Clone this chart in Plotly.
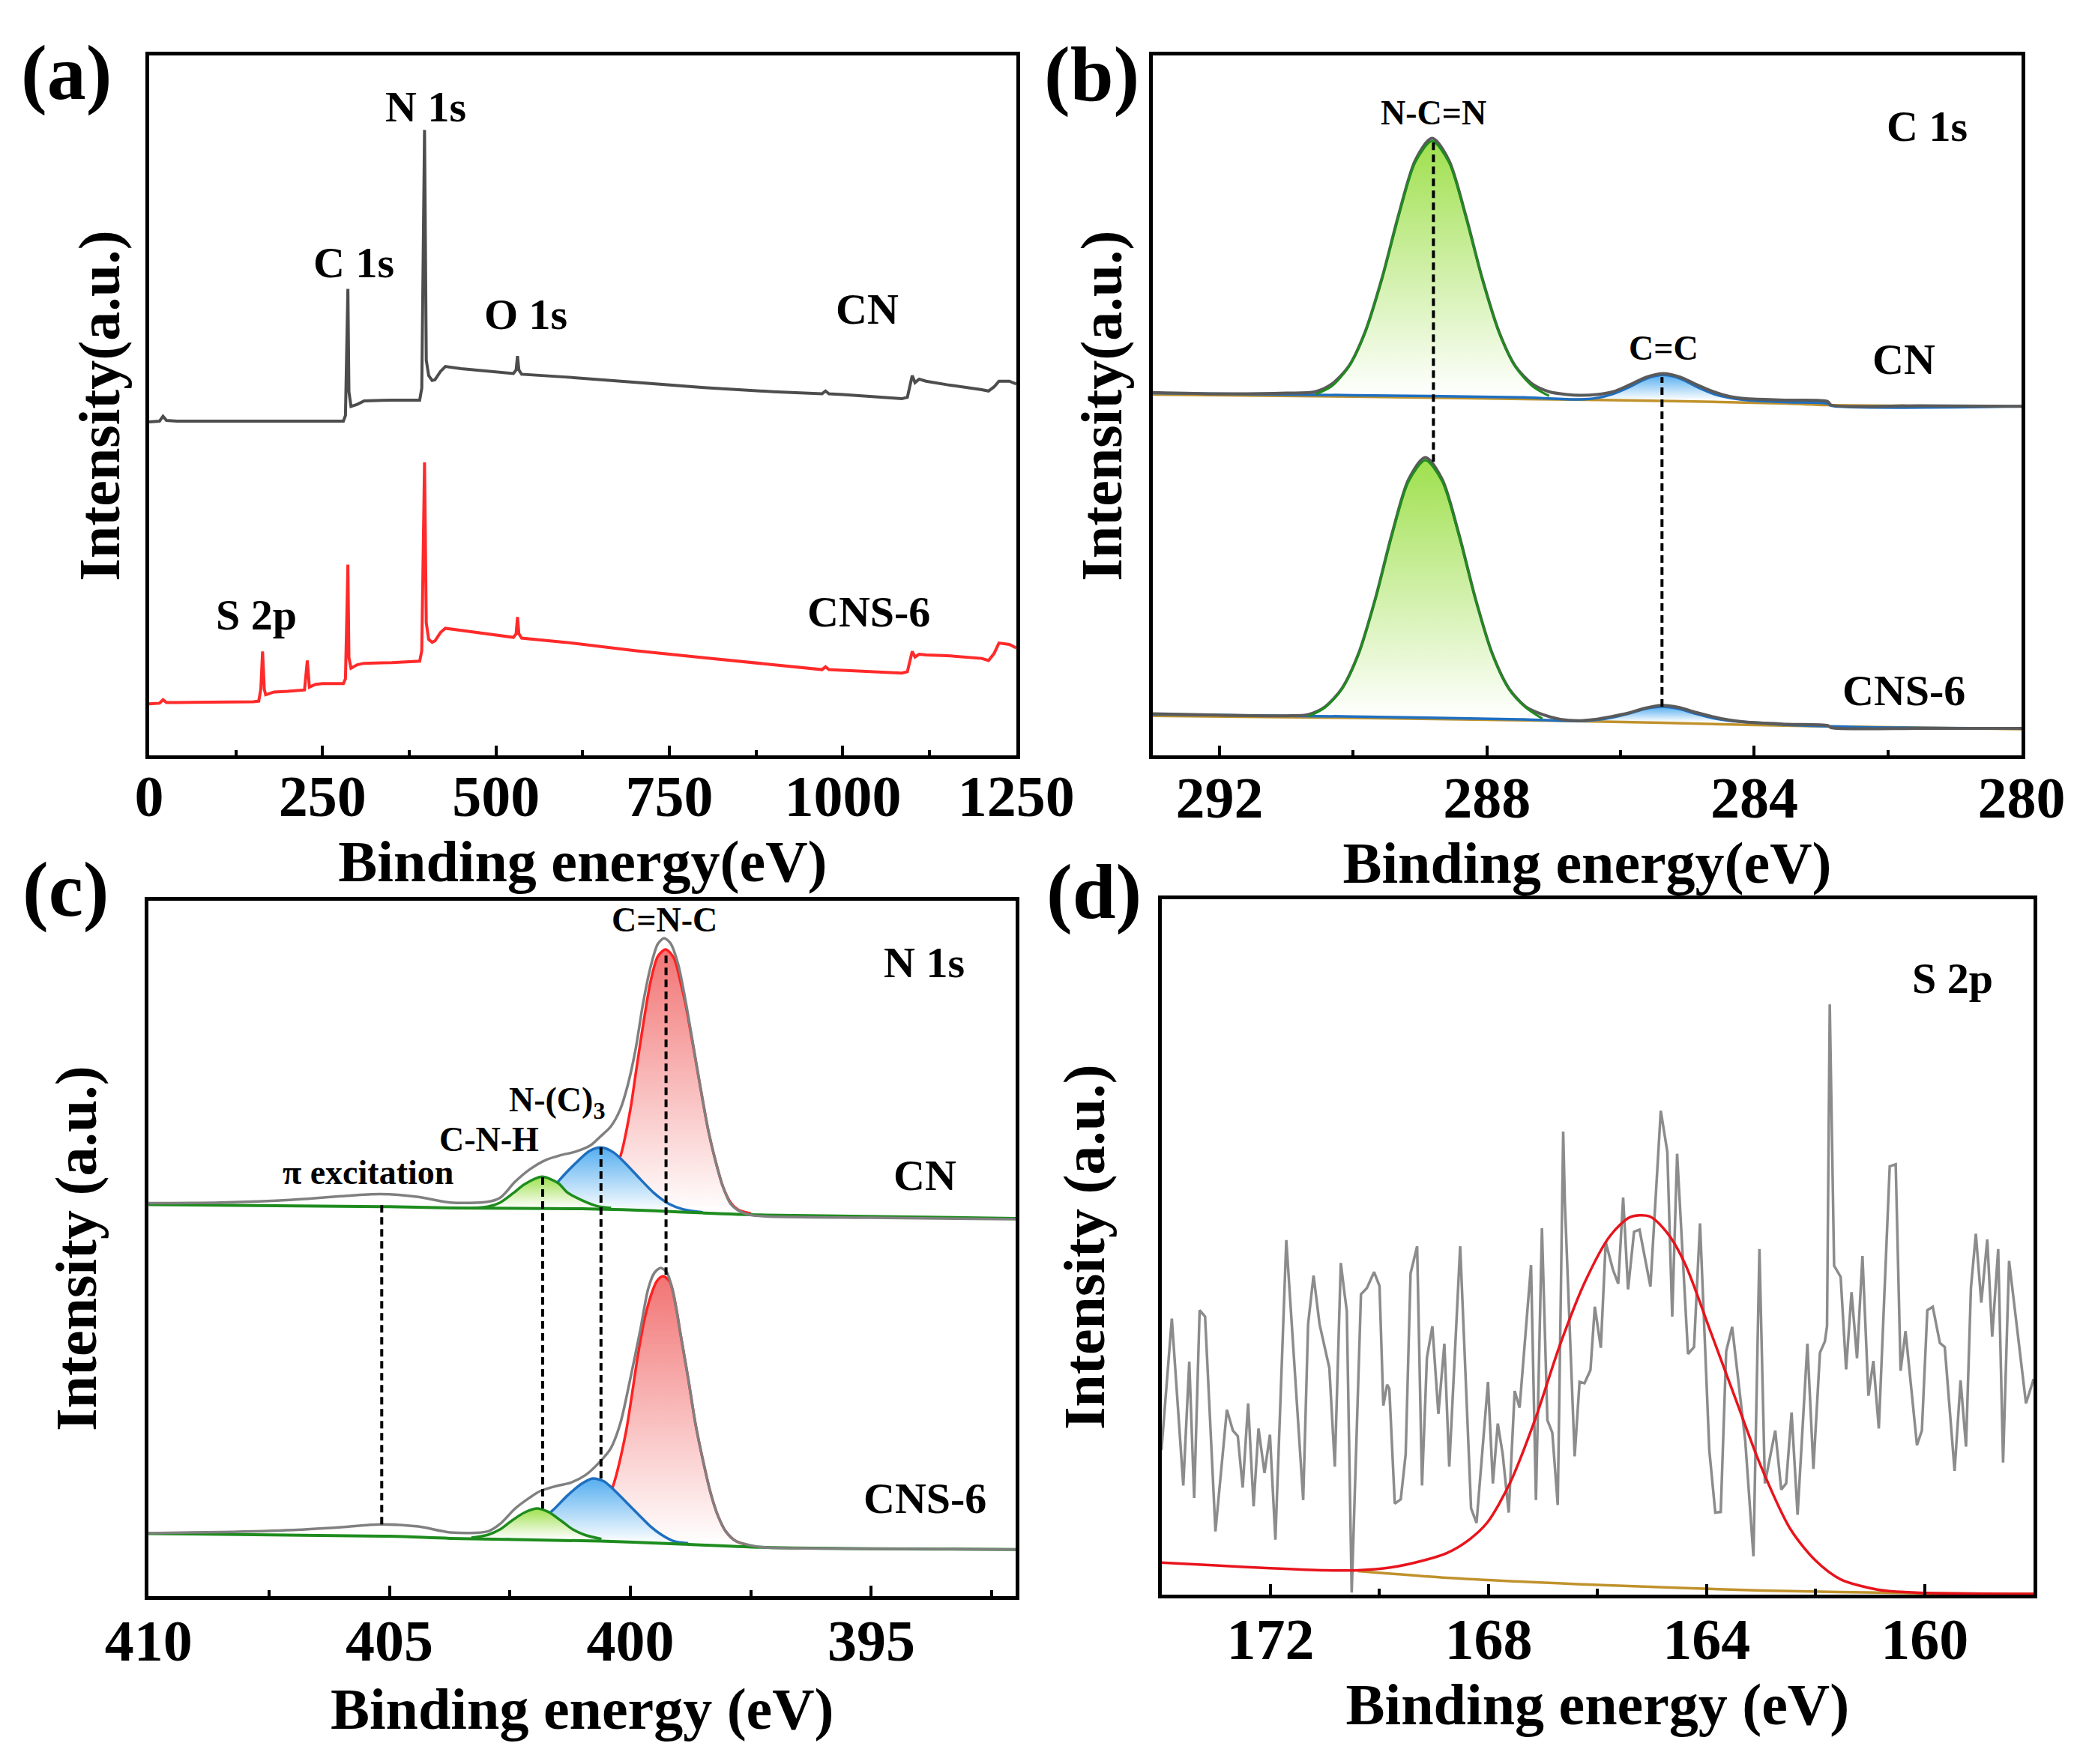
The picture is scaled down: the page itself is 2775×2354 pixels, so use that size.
import plotly.graph_objects as go

FONT = "Liberation Serif"

# ---------------- (a) survey spectra ----------------
a_cn_x = [0, 15, 20, 25, 40, 100, 200, 280, 283, 285, 286.5, 288, 291, 300, 310, 350, 390, 393, 397, 399.5,
          403, 408, 412, 420, 427, 450, 500, 525, 529, 531, 533, 537, 600, 700, 800, 900, 970, 975, 980, 1000,
          1085, 1093, 1097, 1100, 1104, 1110, 1120, 1150, 1200, 1210, 1218, 1225, 1240, 1250]
a_cn_y = [47.7, 47.8, 48.5, 47.9, 47.8, 47.8, 47.8, 47.8, 48.6, 58.0, 66.7, 52.0, 49.9, 50.2, 50.7, 50.8, 50.8, 52.5, 89.4, 56.5,
          54.3, 53.6, 53.7, 54.9, 55.6, 55.3, 54.9, 54.6, 55.1, 57.1, 55.1, 54.5, 54.1, 53.3, 52.6, 52.0, 51.7, 52.1, 51.7, 51.6,
          51.0, 51.2, 53.0, 54.3, 53.3, 53.8, 53.5, 53.0, 52.3, 52.1, 52.7, 53.5, 53.5, 53.1]
a_cns_x = [0, 15, 20, 25, 40, 100, 150, 158, 161, 163.5, 166, 168, 180, 200, 224, 228, 231, 240, 250, 280,
           283, 285, 286.5, 288, 291, 300, 310, 350, 390, 393, 397, 399.5, 403, 408, 412, 420, 427, 450, 500, 525,
           529, 531, 533, 537, 600, 700, 800, 900, 970, 975, 980, 1000, 1085, 1093, 1097, 1100, 1104, 1110, 1120, 1150,
           1200, 1210, 1218, 1225, 1240, 1250]
a_cns_y = [7.4, 7.5, 8.0, 7.6, 7.6, 7.6, 7.7, 7.8, 9.5, 14.9, 9.5, 8.7, 9.1, 9.2, 9.4, 13.6, 9.8, 10.2, 10.3, 10.3,
           11.0, 20.0, 27.3, 14.0, 12.5, 13.0, 13.2, 13.3, 13.5, 15.0, 41.9, 19.0, 16.6, 16.2, 16.4, 17.6, 18.2, 17.9, 17.2, 16.9,
           17.4, 19.8, 17.4, 16.8, 16.2, 15.0, 14.0, 13.0, 12.3, 12.7, 12.3, 12.2, 11.8, 12.0, 13.5, 14.9, 14.1, 14.5, 14.4, 14.3,
           13.9, 13.6, 14.6, 16.1, 15.9, 15.4]
a_ticks = [0, 250, 500, 750, 1000, 1250]
a_minor = [125, 375, 625, 875, 1125]
a_lab_text = ["N 1s", "C 1s", "O 1s", "CN", "S 2p", "CNS-6"]
a_lab_x = [399, 295, 543, 1035, 155, 1037]
a_lab_y = [92.7, 70.4, 63.0, 63.8, 20.1, 20.5]

# ---------------- (b) C 1s ----------------
b_cn_gray_x = [293, 292, 291, 290.57, 290.32, 290.07, 289.82, 289.57, 289.32, 289.07, 288.82, 288.57, 288.32, 288.07,
               287.82, 287.57, 287.32, 287.07, 286.8, 286.61, 286.36, 286.11, 285.86, 285.61, 285.36, 285.11, 284.86,
               284.61, 284.36, 284.11, 283.5, 282.9, 282.85, 281.5, 280]
b_cn_gray_y = [51.9, 51.7, 51.8, 52.0, 53.1, 55.6, 60.6, 68.2, 77.3, 85.1, 88.2, 85.1, 77.3, 68.2, 60.6, 55.6, 53.1, 52.0,
               51.6, 51.5, 51.6, 52.0, 53.0, 54.1, 54.6, 54.1, 53.0, 52.0, 51.3, 51.0, 50.8, 50.6, 50.1, 50.0, 49.9]
b_cn_green_x = [290.57, 290.32, 290.07, 289.82, 289.57, 289.32, 289.07, 288.82, 288.57, 288.32, 288.07, 287.82, 287.57, 287.32, 287.07]
b_cn_green_y = [51.6, 52.8, 55.5, 60.5, 68.1, 77.1, 84.8, 87.8, 84.8, 77.1, 68.1, 60.5, 55.5, 52.8, 51.4]
b_cn_blue_x = [293, 290, 287.5, 286.61, 286.36, 286.11, 285.86, 285.61, 285.36, 285.11, 284.86, 284.61, 284.36, 284.11, 283.5, 282.9, 282.85, 280]
b_cn_blue_y = [51.8, 51.5, 51.2, 50.9, 51.1, 51.7, 52.7, 53.9, 54.4, 53.9, 52.7, 51.7, 51.1, 50.8, 50.5, 50.3, 50.0, 49.9]
b_cn_bg_x = [293, 290, 287, 285.4, 283.5, 282.9, 280]
b_cn_bg_y = [51.6, 51.3, 50.9, 50.7, 50.3, 50.1, 49.9]

b_cns_gray_x = [293, 292, 291, 290.67, 290.42, 290.17, 289.92, 289.67, 289.42, 289.17, 288.92, 288.67, 288.42, 288.17,
                287.92, 287.67, 287.42, 287.17, 286.9, 286.63, 286.38, 286.13, 285.88, 285.63, 285.38, 285.13, 284.88,
                284.63, 284.38, 284.13, 283.5, 282.9, 282.85, 281.5, 280]
b_cns_gray_y = [6.0, 5.8, 5.7, 5.9, 7.0, 9.6, 14.6, 22.4, 31.7, 39.5, 42.6, 39.5, 31.7, 22.4, 14.6, 9.6, 7.0, 5.9,
                5.2, 5.0, 5.2, 5.6, 6.1, 6.8, 7.2, 6.9, 6.2, 5.6, 5.1, 4.8, 4.5, 4.3, 4.0, 3.9, 3.9]
b_cns_green_x = [290.67, 290.42, 290.17, 289.92, 289.67, 289.42, 289.17, 288.92, 288.67, 288.42, 288.17, 287.92, 287.67, 287.42, 287.17]
b_cns_green_y = [5.6, 6.9, 9.5, 14.5, 22.3, 31.5, 39.2, 42.2, 39.2, 31.5, 22.3, 14.5, 9.5, 6.9, 5.3]
b_cns_blue_x = [293, 290, 287.5, 286.63, 286.38, 286.13, 285.88, 285.63, 285.38, 285.13, 284.88, 284.63, 284.38, 284.13, 283.5, 282.5, 280]
b_cns_blue_y = [5.9, 5.6, 5.2, 4.95, 5.1, 5.45, 6.0, 6.7, 7.0, 6.7, 6.0, 5.4, 5.0, 4.8, 4.4, 4.1, 3.9]
b_cns_bg_x = [293, 290, 287, 285.4, 283, 280]
b_cns_bg_y = [5.7, 5.4, 5.0, 4.7, 4.2, 3.8]
b_blue_peak = (286.7, 284.0)   # energy window of the C=C component fill
b_dash_x = [288.8, 285.38]
b_dash_top = [87.8, 54.1]
b_dash_bot = [42.0, 7.0]
b_ticks = [292, 288, 284, 280]
b_minor = [290, 286, 282]
b_lab_text = ["N-C=N", "C=C", "C 1s", "CN", "CNS-6"]
b_lab_x = [288.8, 285.36, 281.41, 281.76, 281.76]
b_lab_y = [91.9, 58.2, 89.9, 56.6, 9.3]
b_lab_size = [46, 46, 58, 58, 58]

# ---------------- (c) N 1s ----------------
c_cn_gray_x = [410, 408.5, 407, 406, 405.2, 404.4, 403.74, 402.96, 402.70, 402.39, 402.08, 401.76, 401.45, 401.14,
               400.83, 400.62, 400.41, 400.21, 400.05, 399.89, 399.74, 399.58, 399.43, 399.30, 399.17, 399.01, 398.86,
               398.70, 398.54, 398.39, 398.23, 398.08, 397.92, 397.77, 397.51, 397.19, 395, 392]
c_cn_gray_y = [56.5, 56.6, 57.0, 57.5, 57.8, 57.4, 56.6, 56.7, 57.3, 59.6, 61.4, 62.7, 63.4, 63.9, 64.8, 66.1, 67.5,
               70.0, 73.6, 78.7, 85.1, 90.5, 93.8, 94.6, 93.9, 90.9, 85.8, 79.4, 72.9, 67.2, 62.5, 58.9, 56.4, 55.5,
               54.8, 54.6, 54.4, 54.2]
c_cn_base_x = [410, 405, 403.7, 401, 399.5, 398.5, 397.2, 392]
c_cn_base_y = [56.3, 56.0, 55.8, 55.7, 55.4, 55.1, 54.8, 54.3]
c_cn_green_x = [403.3, 402.96, 402.7, 402.42, 402.2, 401.84, 401.5, 401.3, 401.0, 400.7, 400.4]
c_cn_green_y = [55.8, 56.0, 56.6, 58.0, 59.2, 60.3, 59.4, 58.0, 56.9, 56.1, 55.8]
c_cn_blue_x = [402.4, 402.0, 401.7, 401.45, 401.1, 400.85, 400.61, 400.35, 400.1, 399.8, 399.5, 399.2, 398.9, 398.5]
c_cn_blue_y = [55.9, 56.7, 58.0, 60.0, 62.5, 64.0, 64.5, 63.8, 62.2, 60.0, 57.9, 56.4, 55.6, 55.2]
c_cn_red_x = [400.8, 400.5, 400.2, 400.0, 399.89, 399.75, 399.58, 399.43, 399.27, 399.1, 398.95, 398.86, 398.7,
              398.54, 398.39, 398.23, 398.08, 397.92, 397.77, 397.5]
c_cn_red_y = [56.0, 58.5, 63.4, 70.0, 75.1, 81.5, 88.4, 92.0, 93.0, 91.8, 88.0, 85.3, 79.2, 72.9, 67.2, 62.5, 58.9,
              56.6, 55.6, 55.0]

c_cns_gray_x = [410, 408.5, 407, 406, 405.2, 404.4, 403.74, 402.96, 402.70, 402.39, 402.08, 401.87, 401.55, 401.24,
                400.93, 400.62, 400.41, 400.21, 400.0, 399.79, 399.63, 399.50, 399.37, 399.24, 399.11, 398.96, 398.80,
                398.65, 398.49, 398.33, 398.18, 398.02, 397.81, 397.51, 397.19, 395, 392]
c_cns_gray_y = [9.05, 9.2, 9.5, 9.9, 10.3, 10.0, 9.16, 9.3, 10.4, 12.6, 14.2, 15.1, 15.8, 16.3, 17.4, 19.4, 21.2,
                24.8, 31.3, 38.4, 44.2, 46.5, 47.2, 46.5, 43.5, 37.7, 31.3, 24.8, 19.4, 14.7, 11.5, 9.3, 7.9, 7.3,
                7.0, 6.8, 6.7]
c_cns_base_x = [410, 405, 403.74, 400.62, 399.06, 397.19, 392]
c_cns_base_y = [9.0, 8.6, 8.3, 7.9, 7.5, 7.0, 6.7]
c_cns_green_x = [403.3, 402.96, 402.7, 402.45, 402.2, 401.95, 401.7, 401.45, 401.2, 400.95, 400.6]
c_cns_green_y = [8.4, 8.8, 9.6, 10.9, 12.0, 12.6, 12.1, 10.9, 9.6, 8.8, 8.2]
c_cns_blue_x = [402.6, 402.2, 401.9, 401.6, 401.3, 401.0, 400.78, 400.55, 400.36, 400.0, 399.8, 399.58, 399.35, 399.1, 398.8]
c_cns_blue_y = [8.3, 9.2, 10.6, 12.4, 14.5, 16.2, 16.9, 16.5, 15.4, 12.9, 11.5, 10.0, 8.8, 7.9, 7.6]
c_cns_red_x = [400.9, 400.65, 400.36, 400.10, 399.84, 399.70, 399.58, 399.45, 399.32, 399.18, 399.05, 398.96, 398.80,
               398.65, 398.49, 398.33, 398.18, 398.02, 397.81, 397.6]
c_cns_red_y = [8.5, 11.0, 15.8, 23.3, 34.8, 40.0, 43.1, 45.3, 46.0, 45.2, 41.5, 37.7, 31.3, 24.8, 19.4, 14.7, 11.5,
               9.3, 7.9, 7.4]
c_dash_x = [405.16, 401.82, 400.61, 399.26]
c_dash_top = [56.8, 60.3, 64.5, 92.7]
c_dash_bot = [10.3, 12.6, 16.9, 46.2]
c_ticks = [410, 405, 400, 395]
c_minor = [407.5, 402.5, 397.5, 392.5]
c_lab_text = ["C=N-C", "N-(C)<sub>3</sub>", "C-N-H", "π excitation", "N 1s", "CN", "CNS-6"]
c_lab_x = [399.30, 401.51, 402.93, 405.44, 393.91, 393.89, 393.89]
c_lab_y = [97.2, 71.0, 65.7, 60.9, 91.1, 60.5, 14.1]
c_lab_size = [46, 46, 46, 46, 58, 58, 58]

# ---------------- (d) S 2p ----------------
d_raw_x = [174.0, 173.81, 173.60, 173.49, 173.40, 173.30, 173.20, 173.01, 172.80, 172.69, 172.60, 172.51, 172.41,
           172.31, 172.22, 172.11, 172.01, 171.91, 171.71, 171.40, 171.31, 171.21, 171.10, 170.92, 170.82, 170.71,
           170.64, 170.60, 170.51, 170.34, 170.23, 170.10, 170.00, 169.93, 169.86, 169.82, 169.72, 169.61, 169.52,
           169.43, 169.31, 169.22, 169.13, 169.03, 168.92, 168.81, 168.72, 168.52, 168.32, 168.22, 168.01, 167.92,
           167.83, 167.74, 167.63, 167.52, 167.43, 167.22, 167.13, 167.02, 166.92, 166.83, 166.73, 166.63, 166.60,
           166.42, 166.33, 166.24, 166.13, 166.05, 165.94, 165.85, 165.72, 165.62, 165.53, 165.44, 165.33, 165.23,
           165.03, 164.84, 164.72, 164.63, 164.54, 164.34, 164.23, 164.12, 163.95, 163.84, 163.74, 163.64, 163.53,
           163.29, 163.14, 163.03, 162.93, 162.74, 162.63, 162.54, 162.44, 162.33, 162.15, 162.04, 161.92, 161.83,
           161.79, 161.74, 161.66, 161.54, 161.44, 161.34, 161.24, 161.14, 161.03, 160.94, 160.84, 160.64, 160.53,
           160.44, 160.35, 160.14, 160.05, 159.95, 159.85, 159.72, 159.63, 159.45, 159.34, 159.24, 159.15, 159.06,
           158.96, 158.85, 158.76, 158.65, 158.56, 158.45, 158.14, 158.0]
d_raw_y = [20.8, 39.7, 15.7, 33.5, 13.9, 40.9, 40.0, 9.1, 26.6, 23.6, 22.8, 15.4, 27.5,
           12.7, 23.9, 17.5, 23.0, 7.9, 51.0, 13.6, 38.9, 45.9, 38.9, 32.6, 18.4, 47.7,
           43.2, 40.8, 0.3, 43.2, 44.1, 46.4, 44.4, 27.2, 30.2, 29.6, 13.1, 13.7, 20.2,
           46.2, 50.1, 15.7, 34.1, 38.6, 26.0, 36.1, 18.4, 50.1, 12.4, 10.3, 30.6, 16.0,
           24.6, 20.2, 11.8, 29.3, 26.9, 47.4, 13.6, 52.7, 25.1, 23.3, 12.9, 66.6, 56.5,
           19.9, 30.6, 30.4, 32.3, 41.4, 35.5, 50.7, 46.8, 44.7, 57.1, 43.9, 52.2, 52.5,
           44.3, 69.6, 63.7, 40.0, 63.4, 34.6, 35.6, 53.4, 20.8, 11.8, 11.9, 35.0, 38.5,
           22.1, 5.5, 49.7, 16.0, 23.6, 15.1, 16.0, 26.2, 11.5, 36.1, 18.1, 34.8, 36.4,
           38.6, 84.9, 47.3, 45.7, 32.4, 43.5, 34.0, 48.7, 28.6, 33.6, 23.9, 61.6, 61.9,
           32.2, 37.9, 21.5, 23.6, 40.9, 41.4, 36.2, 35.6, 17.8, 30.8, 21.3, 44.1, 51.9,
           42.0, 51.1, 37.1, 49.7, 19.0, 48.0, 27.5, 31.0]
d_fit_x = [174, 173, 172, 171, 170.4, 169.8, 169.2, 168.76, 168.34, 168.02, 167.61, 167.15, 166.69, 166.23, 165.77,
           165.4, 165.05, 164.7, 164.39, 163.93, 163.47, 163.01, 162.46, 162.0, 161.54, 160.85, 160.16, 158]
d_fit_y = [4.6, 4.2, 3.8, 3.5, 3.5, 3.9, 4.9, 6.0, 8.0, 10.4, 16.0, 25.1, 35.9, 45.0, 51.6,
           54.3, 54.4, 51.8, 47.5, 37.9, 28.2, 18.6, 9.4, 4.9, 2.2, 0.7, 0.3, 0.1]
d_bg_x = [170.4, 168.7, 166, 163, 160, 158]
d_bg_y = [3.4, 2.4, 1.4, 0.6, 0.2, 0.1]
d_ticks = [172, 168, 164, 160]
d_minor = [170, 166, 162]
d_lab_text = ["S 2p"]
d_lab_x = [159.48]
d_lab_y = [88.6]

panel_text = ["(a)", "(b)", "(c)", "(d)"]
panel_x = [0.0320, 0.5247, 0.0314, 0.5261]
panel_y = [0.9588, 0.9580, 0.4958, 0.4945]

# ---------------- styles ----------------
GRAY_A = "#4d4d4d"
RED_A = "#ff2a2a"
GRAY = "#808080"
GREEN = "#1e8c1e"
BLUE = "#1f6fc0"
RED = "#ff2020"
OLIVE = "#c0922c"
GREEN_FILL = "#9fe04e"
BLUE_FILL = "#55aef0"
RED_FILL = "#f27474"

fig = go.Figure()


def line(x, y, xa, ya, color, width=3.5, shape="spline", dash=None):
    fig.add_trace(go.Scatter(x=x, y=y, xaxis=xa, yaxis=ya, mode="lines",
                             line=dict(color=color, width=width, shape=shape, dash=dash,
                                       smoothing=0.8 if shape == "spline" else None),
                             hoverinfo="skip"))


def filled(x, y, xa, ya, color):
    fig.add_trace(go.Scatter(x=x, y=y, xaxis=xa, yaxis=ya, mode="lines", fill="toself",
                             line=dict(color="rgba(0,0,0,0)", width=0, shape="spline", smoothing=0.8),
                             fillgradient=dict(type="vertical",
                                               colorscale=[[0, "rgba(255,255,255,1)"], [1, color]]),
                             hoverinfo="skip"))


def dashed(xs, tops, bots, xa, ya):
    for xv, t, b in zip(xs, tops, bots):
        line([xv, xv], [b, t], xa, ya, "black", width=4, shape="linear", dash="10px,6px")


def window(xs, ys, lo, hi):
    pts = [(a, b) for a, b in zip(xs, ys) if lo <= a <= hi]
    return [p[0] for p in pts], [p[1] for p in pts]


# (a)
line(a_cn_x, a_cn_y, "x", "y", GRAY_A, 4, "linear")
line(a_cns_x, a_cns_y, "x", "y", RED_A, 4, "linear")

# (b)
for gx, gy, blx, bly, grx, gry, bgx, bgy in [
        (b_cn_gray_x, b_cn_gray_y, b_cn_blue_x, b_cn_blue_y, b_cn_green_x, b_cn_green_y, b_cn_bg_x, b_cn_bg_y),
        (b_cns_gray_x, b_cns_gray_y, b_cns_blue_x, b_cns_blue_y, b_cns_green_x, b_cns_green_y, b_cns_bg_x, b_cns_bg_y)]:
    filled(grx, gry, "x2", "y2", GREEN_FILL)
    wx, wy = window(blx, bly, b_blue_peak[1], b_blue_peak[0])
    filled(wx, wy, "x2", "y2", BLUE_FILL)
    line(bgx, bgy, "x2", "y2", OLIVE, 3.5)
    line(blx, bly, "x2", "y2", BLUE, 3.5)
    line(gx, gy, "x2", "y2", "#5a5a5a", 4)
    line(grx, gry, "x2", "y2", GREEN, 3)
dashed(b_dash_x, b_dash_top, b_dash_bot, "x2", "y2")

# (c)
for gx, gy, bsx, bsy, grx, gry, blx, bly, rx, ry in [
        (c_cn_gray_x, c_cn_gray_y, c_cn_base_x, c_cn_base_y, c_cn_green_x, c_cn_green_y,
         c_cn_blue_x, c_cn_blue_y, c_cn_red_x, c_cn_red_y),
        (c_cns_gray_x, c_cns_gray_y, c_cns_base_x, c_cns_base_y, c_cns_green_x, c_cns_green_y,
         c_cns_blue_x, c_cns_blue_y, c_cns_red_x, c_cns_red_y)]:
    filled(rx, ry, "x3", "y3", RED_FILL)
    line(rx, ry, "x3", "y3", RED, 3.5)
    filled(blx, bly, "x3", "y3", BLUE_FILL)
    line(blx, bly, "x3", "y3", BLUE, 3.5)
    filled(grx, gry, "x3", "y3", GREEN_FILL)
    line(grx, gry, "x3", "y3", GREEN, 3.5)
    line(bsx, bsy, "x3", "y3", GREEN, 4)
    line(gx, gy, "x3", "y3", GRAY, 3.5)
dashed(c_dash_x, c_dash_top, c_dash_bot, "x3", "y3")

# (d)
line(d_raw_x, d_raw_y, "x4", "y4", "#8c8c8c", 3.5, "linear")
line(d_bg_x, d_bg_y, "x4", "y4", OLIVE, 3.5)
line(d_fit_x, d_fit_y, "x4", "y4", "#e8141c", 3.5)

# ---------------- axes ----------------
TICKFONT = dict(family=FONT, size=78, color="black", weight="bold")
TITLEFONT = dict(family=FONT, size=78, color="black", weight="bold")


def xaxis(domain, anchor, rng, ticks, minor, title, lab_standoff, title_standoff):
    return dict(domain=domain, anchor=anchor, range=rng, tickmode="array", tickvals=ticks,
                ticks="inside", ticklen=14, tickwidth=4, tickcolor="black",
                minor=dict(tickmode="array", tickvals=minor, ticks="inside", ticklen=8, tickwidth=3.5,
                           tickcolor="black", showgrid=False),
                showline=True, mirror=True, linewidth=4.5, linecolor="black",
                showgrid=False, zeroline=False, tickfont=TICKFONT, ticklabelstandoff=lab_standoff,
                title=dict(text=title, font=TITLEFONT, standoff=title_standoff), automargin=False)


def yaxis(domain, anchor, title, standoff):
    return dict(domain=domain, anchor=anchor, range=[0, 100], showticklabels=False, ticks="",
                showline=True, mirror=True, linewidth=4.5, linecolor="black",
                showgrid=False, zeroline=False,
                title=dict(text=title, font=TITLEFONT, standoff=standoff), automargin=False)


fig.update_layout(
    xaxis=xaxis([0.0717, 0.4886], "y", [0, 1250], a_ticks, a_minor, "Binding energy(eV)", -18, 10),
    yaxis=yaxis([0.5716, 0.9684], "x", "Intensity(a.u.)", 10),
    xaxis2=xaxis([0.5542, 0.9719], "y2", [293, 280], b_ticks, b_minor, "Binding energy(eV)", -16, 14),
    yaxis2=yaxis([0.5716, 0.9684], "x2", "Intensity(a.u.)", 12),
    xaxis3=xaxis([0.0714, 0.4884], "y3", [410, 392], c_ticks, c_minor, "Binding energy (eV)", -12, 22),
    yaxis3=yaxis([0.0952, 0.4894], "x3", "Intensity (a.u.)", 41),
    xaxis4=xaxis([0.5584, 0.9777], "y4", [174, 158], d_ticks, d_minor, "Binding energy (eV)", -12, 8),
    yaxis4=yaxis([0.0960, 0.4902], "x4", "Intensity (a.u.)", 47),
)

annotations = []


def labels(texts, xs, ys, sizes, xref, yref):
    for t, xv, yv, s in zip(texts, xs, ys, sizes):
        annotations.append(dict(text=t, x=xv, y=yv, xref=xref, yref=yref, showarrow=False,
                                xanchor="center", yanchor="middle",
                                font=dict(family=FONT, size=s, color="black", weight="bold")))


labels(a_lab_text, a_lab_x, a_lab_y, [58] * len(a_lab_text), "x", "y")
labels(b_lab_text, b_lab_x, b_lab_y, b_lab_size, "x2", "y2")
labels(c_lab_text, c_lab_x, c_lab_y, c_lab_size, "x3", "y3")
labels(d_lab_text, d_lab_x, d_lab_y, [58], "x4", "y4")
labels(panel_text, panel_x, panel_y, [104] * 4, "paper", "paper")

fig.update_layout(annotations=annotations, width=2775, height=2354,
                  margin=dict(l=0, r=0, t=0, b=0), paper_bgcolor="white", plot_bgcolor="white",
                  showlegend=False)

fig.write_html("out.html", config={"displayModeBar": False},
               post_script="document.body.style.margin='0px';")
